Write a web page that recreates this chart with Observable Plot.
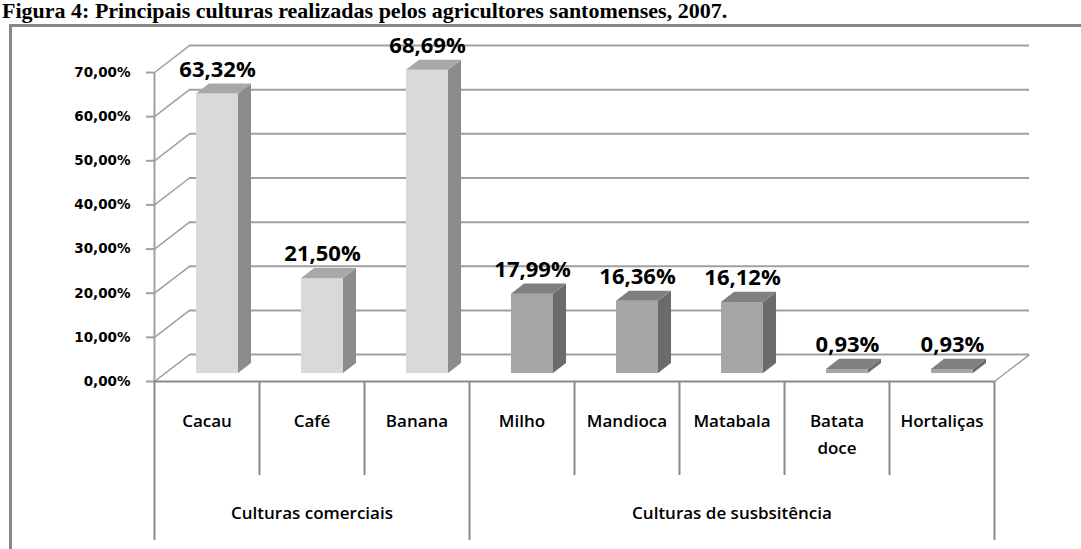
<!DOCTYPE html>
<html><head><meta charset="utf-8">
<script src="https://cdn.jsdelivr.net/npm/d3@7"></script>
<script src="https://cdn.jsdelivr.net/npm/@observablehq/plot@0.6"></script>
<style>
html,body{margin:0;padding:0;background:#fff;width:1081px;height:549px;overflow:hidden;position:relative}
#chart{position:absolute;left:0;top:0}
#frame{position:absolute;left:9px;top:24px;width:1200px;height:700px;border:3px solid #878787;box-sizing:border-box}
#title{position:absolute;left:2px;top:0;font:bold 22px/22px "Liberation Serif","Times New Roman",serif;white-space:nowrap;color:#000}
g[aria-label="categorias"] text, g[aria-label="grupos"] text{letter-spacing:1.1px}
</style></head><body>
<div id="chart"></div>
<div id="frame"></div>
<div id="title">Figura 4: Principais culturas realizadas pelos agricultores santomenses, 2007.</div>
<script>
// ---- data ----
const categories = ["Cacau", "Café", "Banana", "Milho", "Mandioca", "Matabala", "Batata doce", "Hortaliças"];
const values = [63.32, 21.50, 68.69, 17.99, 16.36, 16.12, 0.93, 0.93];
const groupOf = ["Culturas comerciais", "Culturas comerciais", "Culturas comerciais",
  "Culturas de susbsitência", "Culturas de susbsitência", "Culturas de susbsitência",
  "Culturas de susbsitência", "Culturas de susbsitência"];
const groupNames = ["Culturas comerciais", "Culturas de susbsitência"];
const yTicks = [0, 10, 20, 30, 40, 50, 60, 70];

// ---- styling / 3D geometry (scale units) ----
const palette = {
  "Culturas comerciais": {front: "#d9d9d9", side: "#8c8c8c", top: "#a8a8a8"},
  "Culturas de susbsitência": {front: "#a6a6a6", side: "#6b6b6b", top: "#808080"}
};
const DEPTH_X = 1 / 3, DEPTH_Y = 6.1;       // back wall offset
const BAR_L = 0.40, BAR_R = 0.80, BAR_BASE = 1.8;
const SIDE_X = 0.124, SIDE_Y = 2.3;
const ROW1 = -21.3, ROW2 = -36;
const fmt = v => v.toFixed(2).replace(".", ",") + "%";

const bars = categories.map((name, i) => ({name, i, v: values[i], g: groupOf[i]}));
const sidePts = bars.flatMap(b => [
  {i: b.i, g: b.g, x: b.i + BAR_R, y1: BAR_BASE, y2: b.v + BAR_BASE},
  {i: b.i, g: b.g, x: b.i + BAR_R + SIDE_X, y1: BAR_BASE + SIDE_Y, y2: b.v + BAR_BASE + SIDE_Y}
]);
const topPts = bars.flatMap(b => {
  const t = b.v + BAR_BASE;
  return [
    {x: b.i + BAR_L, y1: t, y2: t},
    {x: b.i + BAR_L + SIDE_X, y1: t, y2: t + SIDE_Y},
    {x: b.i + BAR_R, y1: t, y2: t + SIDE_Y},
    {x: b.i + BAR_R + SIDE_X, y1: t + SIDE_Y, y2: t + SIDE_Y}
  ].map(p => ({...p, i: b.i, g: b.g}));
});
const groupLabels = groupNames.map(g => {
  const ids = bars.filter(b => b.g === g).map(b => b.i);
  return {g, x: (d3.min(ids) + d3.max(ids) + 1) / 2};
});
const boundaries = d3.range(0, categories.length + 1);
const isGroupEdge = k => k === 0 || k === categories.length || groupOf[k - 1] !== groupOf[k];

const gridColor = "#a0a0a0", lineColor = "#8a8a8a";

const chart = Plot.plot({
  width: 1081, height: 549,
  marginLeft: 154, marginRight: 87, marginTop: 72, marginBottom: 168,
  style: {background: "transparent", fontFamily: "Open Sans", color: "black", overflow: "visible"},
  x: {domain: [0, categories.length], axis: null},
  y: {domain: [0, 70]},
  marks: [
    // back wall gridlines
    Plot.ruleY(yTicks, {y: d => d + DEPTH_Y, x1: DEPTH_X, x2: categories.length + DEPTH_X, stroke: gridColor, strokeWidth: 2}),
    // left wall diagonals
    Plot.link(yTicks, {x1: 0, y1: d => d, x2: DEPTH_X, y2: d => d + DEPTH_Y, stroke: gridColor, strokeWidth: 1.5}),
    // right floor diagonal
    Plot.link([categories.length], {x1: d => d, y1: 0, x2: d => d + DEPTH_X, y2: DEPTH_Y, stroke: gridColor, strokeWidth: 1.5}),
    // axis line
    Plot.ruleX([0], {y1: 0, y2: 70, stroke: gridColor, strokeWidth: 2}),
    Plot.axisY(yTicks, {tickSize: 8, tickPadding: 16, tickFormat: fmt, stroke: gridColor, strokeWidth: 2,
      fontSize: 13.5, fontFamily: "DejaVu Sans", fontWeight: "bold", label: null}),
    // floor front edge / table top
    Plot.ruleY([0], {x1: 0, x2: categories.length, stroke: lineColor, strokeWidth: 2}),
    // table verticals
    Plot.ruleX(boundaries, {x: d => d, y1: 0, y2: d => isGroupEdge(d) ? ROW2 : ROW1, stroke: lineColor, strokeWidth: 2}),
    // bars
    ...groupNames.flatMap(g => [
      Plot.rect(bars.filter(b => b.g === g), {x1: b => b.i + BAR_L, x2: b => b.i + BAR_R, y1: BAR_BASE, y2: b => b.v + BAR_BASE, fill: palette[g].front}),
      Plot.areaY(sidePts.filter(p => p.g === g), {x: "x", y1: "y1", y2: "y2", z: "i", fill: palette[g].side}),
      Plot.areaY(topPts.filter(p => p.g === g), {x: "x", y1: "y1", y2: "y2", z: "i", fill: palette[g].top})
    ]),
    // value labels
    Plot.text(bars, {x: b => b.i + (BAR_L + BAR_R) / 2, y: b => b.v + BAR_BASE + SIDE_Y, text: b => fmt(b.v),
      dy: -7, lineAnchor: "bottom", fontSize: 22, fontWeight: "bold", fontFamily: "Open Sans", fill: "black"}),
    // category labels
    Plot.text(bars, {x: b => b.i + 0.5, y: 0, text: b => b.name.split(" ").join("\n"), lineAnchor: "top",
      lineHeight: 1.55, dy: 27, fontSize: 17, fontWeight: 600, fontFamily: "Open Sans", fill: "black", ariaLabel: "categorias"}),
    // group labels
    Plot.text(groupLabels, {x: "x", y: 0, text: "g", lineAnchor: "bottom", dy: 137, fontSize: 17, fontWeight: 600,
      fontFamily: "Open Sans", fill: "black", ariaLabel: "grupos"})
  ]
});
document.getElementById("chart").appendChild(chart);
</script>
</body></html>
